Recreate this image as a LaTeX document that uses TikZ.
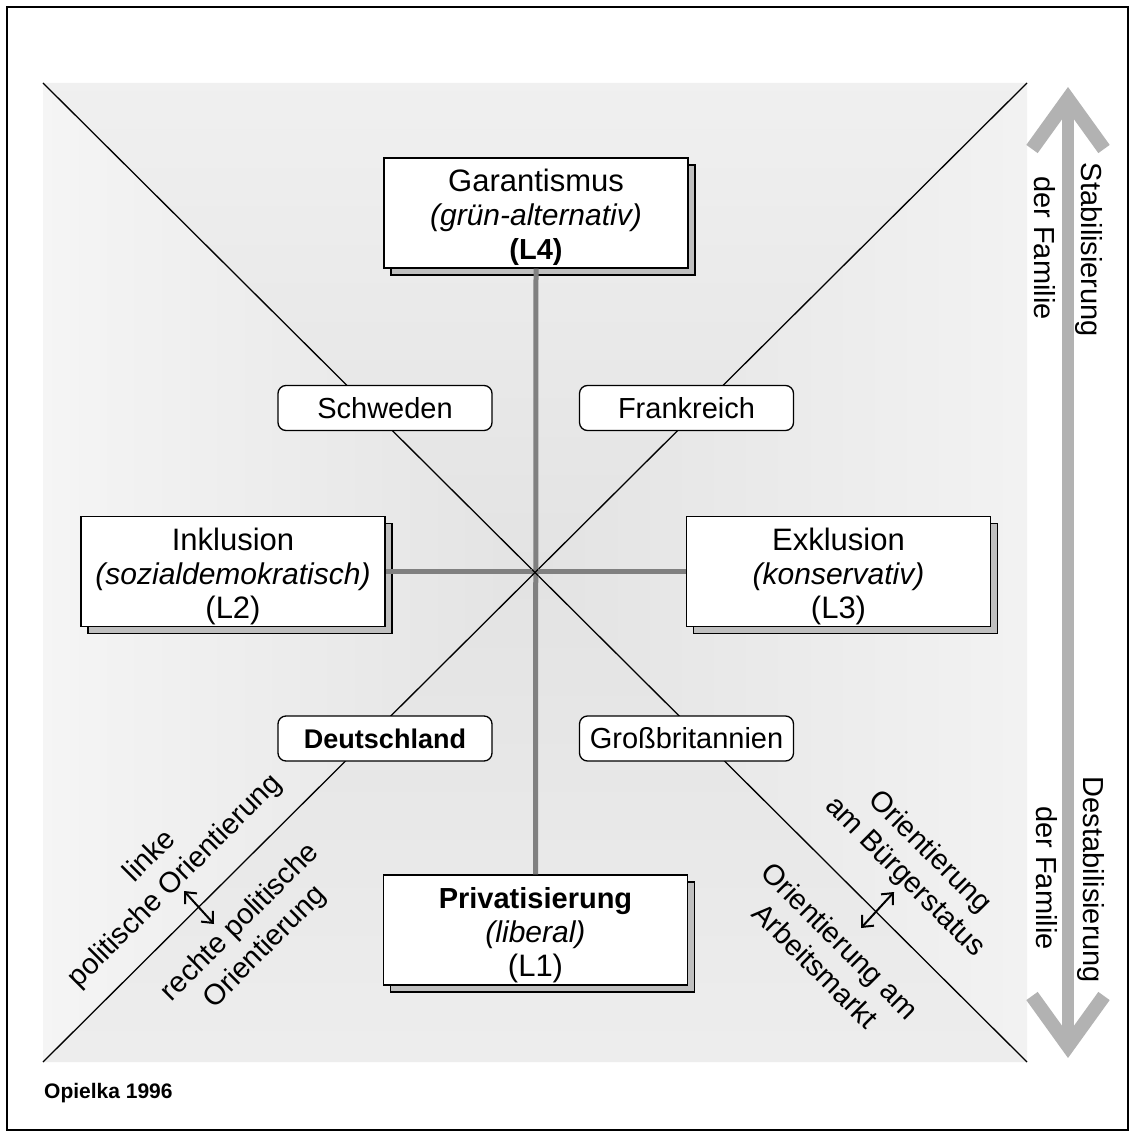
\documentclass[tikz,border=0pt]{standalone}
\usepackage{fontspec}
\setmainfont{Liberation Sans}
\usetikzlibrary{shadows,arrows.meta}
\newcommand{\firstline}{\rule{0pt}{32pt}}
\newcommand{\subline}[1]{{\fontsize{30}{34}\selectfont\textit{#1}}}
\tikzset{
  lbox/.style={draw, line width=1.3pt, fill=white, minimum width=304pt, minimum height=110pt,
    align=center, inner sep=0pt, font=\fontsize{31}{34}\selectfont,
    copy shadow={shadow xshift=7pt, shadow yshift=-7pt, fill=gray!50, draw=black, line width=1.3pt}},
  cbox/.style={draw, line width=1.3pt, fill=white, rounded corners=8pt, minimum width=214pt,
    minimum height=45pt, inner sep=0pt, font=\fontsize{29}{34}\selectfont},
  conn/.style={draw=gray, line width=5pt},
  diag/.style={draw=black, line width=1.3pt},
  lab/.style={align=center, inner sep=0pt, font=\fontsize{29}{35}\selectfont},
  smallarrow/.style={line width=2pt, {Straight Barb[length=9pt,width=16pt]}-{Straight Barb[length=9pt,width=16pt]}},
  bigarrow/.style={draw=gray!60, line width=14pt, line join=miter},
}
\begin{document}
\begin{tikzpicture}[x=1pt,y=-1pt]
\useasboundingbox (0,0) rectangle (1129,1131);
\fill[white] (0,0) rectangle (1129,1131);
\draw[line width=2pt] (7,7) rectangle (1128,1130);

% corners of the square field
\coordinate (TL) at (43,83);
\coordinate (TR) at (1027,83);
\coordinate (BL) at (43,1062);
\coordinate (BR) at (1027,1062);
\coordinate (C) at (535,572.5);

% background shading
\shade[top color=black!6, bottom color=black!11] (TL) -- (TR) -- (C) -- cycle;
\shade[bottom color=black!7, top color=black!11] (BL) -- (BR) -- (C) -- cycle;
\shade[left color=black!4, right color=black!11] (TL) -- (BL) -- (C) -- cycle;
\shade[right color=black!5, left color=black!11] (TR) -- (BR) -- (C) -- cycle;

% diagonals
\draw[diag] (TL) -- (BR);
\draw[diag] (TR) -- (BL);

% main boxes
\node[lbox] (L4) at (536,213) {\firstline Garantismus\\\subline{(grün-alternativ)}\\{\fontsize{29}{34}\selectfont\textbf{(L4)}}};
\node[lbox] (L2) at (233,571.5) {\firstline Inklusion\\\subline{(sozialdemokratisch)}\\(L2)};
\node[lbox] (L3) at (838.5,571.5) {\firstline Exklusion\\\subline{(konservativ)}\\(L3)};
\node[lbox] (L1) at (535.5,930) {\firstline{\fontsize{29}{34}\selectfont\textbf{Privatisierung}}\\\subline{(liberal)}\\(L1)};

% connectors
\draw[conn] (L4.south) -- (L1.north);
\draw[conn] (L2.east) -- (L3.west);
\draw[diag] (C) ++(-3,-3) -- ++(6,6);
\draw[diag] (C) ++(3,-3) -- ++(-6,6);

% country boxes
\node[cbox] (SE) at (385,408) {Schweden};
\node[cbox] (FR) at (686.5,408) {Frankreich};
\node[cbox] (DE) at (385,738.5) {{\fontsize{27}{32}\selectfont\textbf{Deutschland}}};
\node[cbox] (GB) at (686.5,738.5) {Großbritannien};

% rotated labels, left
\node[lab, rotate=45] (links) at (163,869) {linke\\politische Orientierung};
\node[lab, rotate=45] (rechts) at (253,935) {rechte politische\\Orientierung};
\coordinate (la1) at (184,891);
\coordinate (la2) at (214,924);
\draw[smallarrow] (la1) -- (la2);

% rotated labels, right
\node[lab, rotate=-45] (buerger) at (917,865) {Orientierung\\am Bürgerstatus};
\node[lab, rotate=-45] (arbeit) at (828,953) {Orientierung am\\Arbeitsmarkt};
\coordinate (ra1) at (894,892);
\coordinate (ra2) at (861,928);
\draw[smallarrow] (ra1) -- (ra2);

% big double arrow on the right
\coordinate (ATop) at (1068,99);
\coordinate (ABot) at (1068,1046);
\draw[draw=gray!60, line width=12pt] (ATop) -- (ABot);
\draw[bigarrow] (1032,149) -- (ATop) -- (1104,149);
\draw[bigarrow] (1032,996) -- (ABot) -- (1104,996);

\node[lab, rotate=-90] (stab) at (1089,250) {Stabilisierung};
\node[lab, rotate=-90] (fam1) at (1045,248) {der Familie};
\node[lab, rotate=-90] (destab) at (1091,880) {Destabilisierung};
\node[lab, rotate=-90] (fam2) at (1047,878) {der Familie};

% source
\node[anchor=west, inner sep=0pt, font=\fontsize{21}{24}\selectfont\bfseries] (src) at (44,1093) {Opielka 1996};
\end{tikzpicture}
\end{document}
